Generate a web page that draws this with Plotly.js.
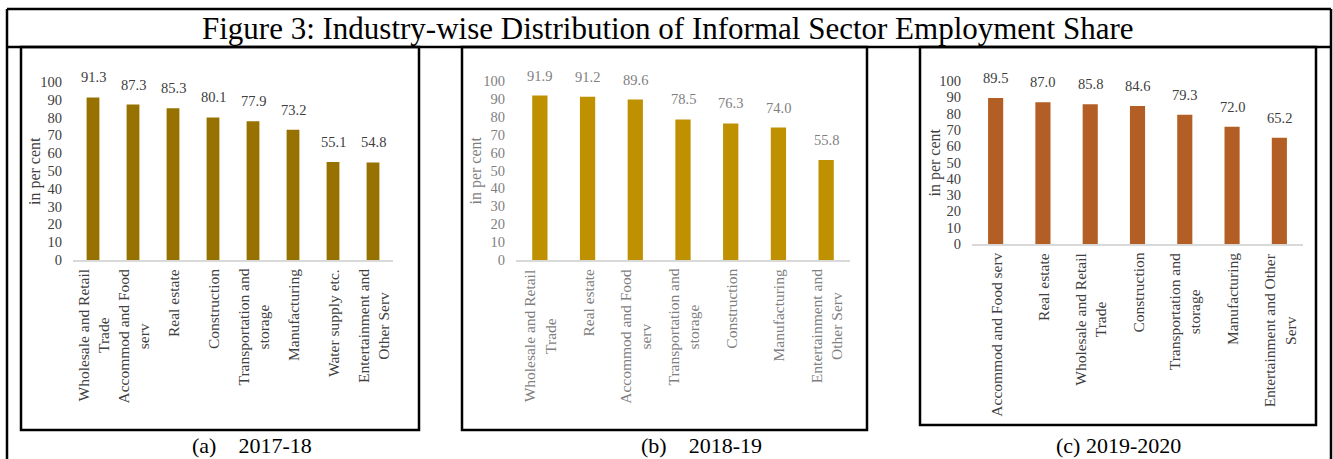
<!DOCTYPE html>
<html>
<head>
<meta charset="utf-8">
<script src="https://cdn.plot.ly/plotly-3.0.1.min.js"></script>
<style>html,body{margin:0;padding:0;background:#fff;}#chart{width:1333px;height:459px;}</style>
</head>
<body>
<div id="chart"></div>
<script>
// ---- data ----
const figureTitle = 'Figure 3: Industry-wise Distribution of Informal Sector Employment Share';
const yTitle = 'in per cent';

const captionA = '(a)&nbsp;&nbsp;&nbsp;&nbsp;2017-18';
const categoriesA = ['Wholesale and Retail Trade', 'Accommod and Food serv', 'Real estate', 'Construction', 'Transportation and storage', 'Manufacturing', 'Water supply etc.', 'Entertainment and Other Serv'];
const labelsA = ['Wholesale and Retail<br>Trade', 'Accommod and Food<br>serv', 'Real estate', 'Construction', 'Transportation and<br>storage', 'Manufacturing', 'Water supply etc.', 'Entertainment and<br>Other Serv'];
const valuesA = [91.3, 87.3, 85.3, 80.1, 77.9, 73.2, 55.1, 54.8];

const captionB = '(b)&nbsp;&nbsp;&nbsp;&nbsp;2018-19';
const categoriesB = ['Wholesale and Retail Trade', 'Real estate', 'Accommod and Food serv', 'Transportation and storage', 'Construction', 'Manufacturing', 'Entertainment and Other Serv'];
const labelsB = ['Wholesale and Retail<br>Trade', 'Real estate', 'Accommod and Food<br>serv', 'Transportation and<br>storage', 'Construction', 'Manufacturing', 'Entertainment and<br>Other Serv'];
const valuesB = [91.9, 91.2, 89.6, 78.5, 76.3, 74.0, 55.8];

const captionC = '(c) 2019-2020';
const categoriesC = ['Accommod and Food serv', 'Real estate', 'Wholesale and Retail Trade', 'Construction', 'Transportation and storage', 'Manufacturing', 'Entertainment and Other Serv'];
const labelsC = ['Accommod and Food serv', 'Real estate', 'Wholesale and Retail<br>Trade', 'Construction', 'Transportation and<br>storage', 'Manufacturing', 'Entertainment and Other<br>Serv'];
const valuesC = [89.5, 87.0, 85.8, 84.6, 79.3, 72.0, 65.2];

const yTickVals = [0, 10, 20, 30, 40, 50, 60, 70, 80, 90, 100];

// ---- layout helpers (pixel geometry -> paper) ----
const W = 1333, H = 459;
const FONT = 'Liberation Serif, Times New Roman, serif';
const px = x => x / W;
const py = y => 1 - y / H;

const panels = [
  {cats: categoriesA, labels: labelsA, vals: valuesA, caption: captionA, color: '#987200', text: '#404040',
   dom: [73, 393, 82, 260], box: [21, 47, 419, 430], capX: 252, titleX: 35, gap: 0.67},
  {cats: categoriesB, labels: labelsB, vals: valuesB, caption: captionB, color: '#BF9000', text: '#7f7f7f',
   dom: [516, 850, 81, 260], box: [462, 47, 867, 430], capX: 701, titleX: 475, gap: 0.69},
  {cats: categoriesC, labels: labelsC, vals: valuesC, caption: captionC, color: '#B35E24', text: '#404040',
   dom: [972, 1303, 81, 244], box: [920, 47, 1316, 425], capX: 1118, titleX: 934, gap: 0.68}
];

const data = [];
const layout = {
  width: W, height: H,
  margin: {l: 0, r: 0, t: 0, b: 0},
  paper_bgcolor: '#fff', plot_bgcolor: 'rgba(0,0,0,0)',
  showlegend: false,
  font: {family: FONT, size: 14, color: '#404040'},
  shapes: [], annotations: []
};

// outer frame & title band
layout.shapes.push(
  {type: 'line', xref: 'paper', yref: 'paper', x0: px(7), x1: px(1331), y0: py(9), y1: py(9), line: {color: '#000', width: 2.5}},
  {type: 'line', xref: 'paper', yref: 'paper', x0: px(7), x1: px(1331), y0: py(47), y1: py(47), line: {color: '#000', width: 2.5}},
  {type: 'line', xref: 'paper', yref: 'paper', x0: px(7), x1: px(7), y0: py(9), y1: py(470), line: {color: '#000', width: 2.5}},
  {type: 'line', xref: 'paper', yref: 'paper', x0: px(1331), x1: px(1331), y0: py(9), y1: py(470), line: {color: '#000', width: 2.5}}
);
layout.annotations.push({
  xref: 'paper', yref: 'paper', x: px(668), y: py(28), xanchor: 'center', yanchor: 'middle',
  text: figureTitle, showarrow: false, font: {family: FONT, size: 31, color: '#000'}
});

panels.forEach((p, i) => {
  const n = i === 0 ? '' : String(i + 1);
  const xa = 'xaxis' + n, ya = 'yaxis' + n;
  const xr = 'x' + n, yr = 'y' + n;
  data.push({
    type: 'bar', x: p.cats, y: p.vals, xaxis: xr, yaxis: yr,
    marker: {color: p.color}, hoverinfo: 'x+y'
  });
  layout[xa] = {
    domain: [px(p.dom[0]), px(p.dom[1])], anchor: yr, type: 'category',
    range: [-0.5, p.cats.length - 0.5], showticklabels: false, ticks: '',
    showline: true, linecolor: '#d9d9d9', linewidth: 1.5, showgrid: false, zeroline: false, fixedrange: true
  };
  layout[ya] = {
    domain: [py(p.dom[3]), py(p.dom[2])], anchor: xr, range: [0, 100],
    tickvals: yTickVals, ticks: '', ticklabelstandoff: 10,
    tickfont: {family: FONT, size: 14.5, color: p.text},
    showline: false, showgrid: false, zeroline: false, fixedrange: true
  };
  layout['bargap'] = p.gap;
  // panel box
  layout.shapes.push({type: 'rect', xref: 'paper', yref: 'paper',
    x0: px(p.box[0]), x1: px(p.box[2]), y0: py(p.box[3]), y1: py(p.box[1]),
    line: {color: '#000', width: 2.5}, fillcolor: 'rgba(0,0,0,0)'});
  // caption
  layout.annotations.push({xref: 'paper', yref: 'paper', x: px(p.capX), y: py(445), xanchor: 'center', yanchor: 'middle',
    text: p.caption, showarrow: false, font: {family: FONT, size: 22, color: '#000'}});
  // y title
  layout.annotations.push({xref: 'paper', yref: yr + ' domain', x: px(p.titleX), y: 0.5, xanchor: 'center', yanchor: 'middle',
    text: yTitle, textangle: -90, showarrow: false, font: {family: FONT, size: 16, color: p.text}});
  // value labels & category labels
  p.cats.forEach((c, k) => {
    layout.annotations.push({xref: xr, yref: yr, x: c, y: p.vals[k], xanchor: 'center', yanchor: 'bottom', yshift: 10,
      text: p.vals[k].toFixed(1), showarrow: false, font: {family: FONT, size: 14.5, color: p.text}});
    layout.annotations.push({xref: xr, yref: yr, x: c, y: 0, xanchor: 'center', yanchor: 'top', yshift: -7,
      text: p.labels[k], textangle: -90, align: 'center', showarrow: false, font: {family: FONT, size: 15.5, color: p.text}});
  });
});

Plotly.newPlot('chart', data, layout, {displayModeBar: false, staticPlot: true});
</script>
</body>
</html>
